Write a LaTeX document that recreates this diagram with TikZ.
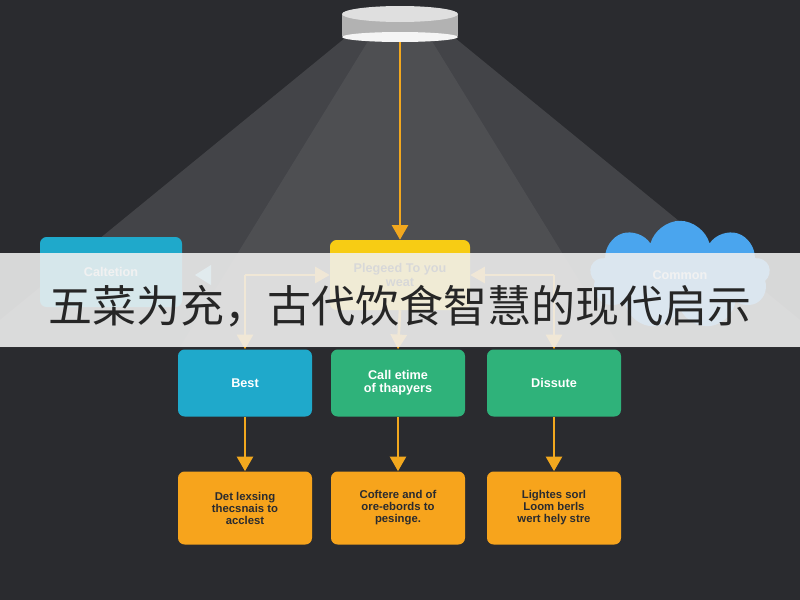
\documentclass[tikz,border=0pt]{standalone}
\usepackage{fontspec}
\setmainfont{Liberation Sans}
\newfontfamily\cjk{Noto Sans CJK SC}
\usetikzlibrary{arrows.meta,shapes.symbols}
\definecolor{bg}{HTML}{2A2B2F}
\definecolor{arr}{HTML}{F2A81E}
\definecolor{cy}{HTML}{1FA9CB}
\definecolor{gr}{HTML}{2FB27A}
\definecolor{ye}{HTML}{F7CC14}
\definecolor{og}{HTML}{F7A41C}
\definecolor{cl}{HTML}{4AA5EE}
\tikzset{
 box/.style={rounded corners=5pt,minimum width=134pt*0.75,minimum height=67pt*0.75,inner sep=0pt,align=center,font=\bfseries\fontsize{9.5}{10}\selectfont,text=white},
 obox/.style={box,fill=og,text=bg,minimum height=73pt*0.75,font=\bfseries\fontsize{8.5}{9}\selectfont},
 con/.style={arr,line width=2pt,-{Triangle[length=11pt,width=12pt]}},
}
\begin{document}
\begin{tikzpicture}[x=0.75pt,y=-0.75pt]
\useasboundingbox (0,0) rectangle (800,600);
\fill[bg] (0,0) rectangle (800,600);
% light cone
\fill[white,opacity=0.12] (345,38) -- (455,38) -- (800,320) -- (800,347) -- (0,347) -- (0,320) -- cycle;
\fill[white,opacity=0.06] (370,38) -- (430,38) -- (620,347) -- (180,347) -- cycle;
% lamp
\fill[gray!60] (342,14) rectangle (458,36);
\fill[gray!25] (400,14) ellipse (58pt*0.75 and 8pt*0.75);
\fill[white!92!gray] (400,37) ellipse (58pt*0.75 and 5pt*0.75);
\coordinate (lamp) at (400,42);
% top row
\node[box,fill=ye,text=bg,minimum width=140pt*0.75,minimum height=70pt*0.75] (top) at (400,275) {Plegeed To you\\weat};
\node[box,fill=cy,minimum width=142pt*0.75,minimum height=70pt*0.75] (cal) at (111,272) {Caltetion};
\node[cloud,cloud puffs=9,fill=cl,minimum width=180pt*0.75,minimum height=80pt*0.75,text=white,font=\bfseries\fontsize{9.5}{10}\selectfont] (com) at (680,275) {Common\\[2pt]};
\fill[cy!60!white] (195,275) -- (211,265) -- (211,285) -- cycle;
\draw[con] (lamp) -- (top.north);
% middle row
\node[box,fill=cy] (m1) at (245,383) {Best};
\node[box,fill=gr] (m2) at (398,383) {Call etime\\of thapyers};
\node[box,fill=gr] (m3) at (554,383) {Dissute};
% bottom row
\node[obox] (b1) at (245,508) {Det lexsing\\thecsnais to\\acclest};
\node[obox] (b2) at (398,508) {Coftere and of\\ore-ebords to\\pesinge.};
\node[obox] (b3) at (554,508) {Lightes sorl\\Loom berls\\wert hely stre};
% connectors
\coordinate (lc) at (m1.north |- top.west);
\coordinate (rc) at (m3.north |- top.east);
\draw[con] (lc) -- (top.west);
\draw[con] (lc) -- (m1.north);
\draw[con] (rc) -- (top.east);
\draw[con] (rc) -- (m3.north);
\draw[con] (top.south) -- (m2.north);
\draw[con] (m1) -- (b1);
\draw[con] (m2) -- (b2);
\draw[con] (m3) -- (b3);
% banner
\fill[white!88!gray,opacity=0.88] (0,253) rectangle (800,347);
\node[font=\cjk\fontsize{33}{34}\selectfont,text=black!85] (title) at (400,306) {五菜为充，古代饮食智慧的现代启示};
\end{tikzpicture}
\end{document}
